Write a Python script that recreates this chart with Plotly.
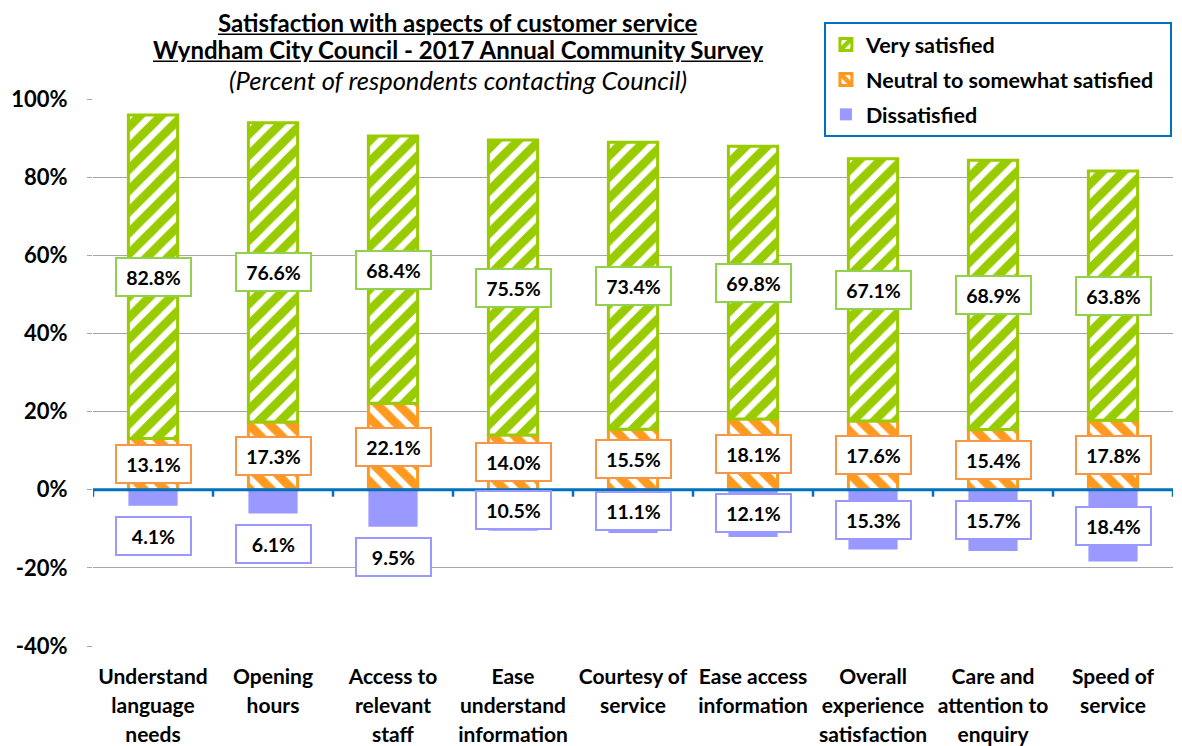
import plotly.graph_objects as go

categories = ["Understand<br>language<br>needs", "Opening<br>hours", "Access to<br>relevant<br>staff",
              "Ease<br>understand<br>information", "Courtesy of<br>service", "Ease access<br>information",
              "Overall<br>experience<br>satisfaction", "Care and<br>attention to<br>enquiry", "Speed of<br>service"]
very_satisfied = [82.8, 76.6, 68.4, 75.5, 73.4, 69.8, 67.1, 68.9, 63.8]
neutral = [13.1, 17.3, 22.1, 14.0, 15.5, 18.1, 17.6, 15.4, 17.8]
dissatisfied = [4.1, 6.1, 9.5, 10.5, 11.1, 12.1, 15.3, 15.7, 18.4]
y_ticks = [-40, -20, 0, 20, 40, 60, 80, 100]

FONT = "Lato"
GREEN = "#99CC00"
GREEN_BOX = "#92D050"
ORANGE = "#FF9A1F"
ORANGE_BOX = "#F79646"
PURPLE = "#9999FF"
BLUE = "#0070C0"

x = list(range(len(categories)))
fig = go.Figure()
fig.add_trace(go.Bar(
    x=x, y=neutral, name="<b>Neutral to somewhat satisfied</b>\u00a0\u00a0", width=0.41,
    marker=dict(color="white", line=dict(color=ORANGE, width=3),
                pattern=dict(shape="\\", fgcolor=ORANGE, bgcolor="white", fgopacity=1,
                             size=15, solidity=0.58)),
    legendrank=2, legendgroup="b"))
fig.add_trace(go.Bar(
    x=x, y=very_satisfied, name="<b>Very satisfied</b>", width=0.41,
    marker=dict(color="white", line=dict(color=GREEN, width=3),
                pattern=dict(shape="/", fgcolor=GREEN, bgcolor="white", fgopacity=1,
                             size=15, solidity=0.58)),
    legendrank=1, legendgroup="a"))
fig.add_trace(go.Bar(
    x=x, y=[-d for d in dissatisfied], name="<b>Dissatisfied</b>", width=0.41,
    marker=dict(color=PURPLE, line=dict(color=PURPLE, width=0)),
    legendrank=3, legendgroup="c"))

lab_font = dict(family=FONT, size=19.5, color="black")
box = dict(showarrow=False, font=lab_font, bgcolor="white", borderwidth=2, borderpad=6, width=61, height=24)
for i in x:
    n, v, d = neutral[i], very_satisfied[i], dissatisfied[i]
    fig.add_annotation(x=i, y=n + v / 2, text="<b>%.1f%%</b>" % v, bordercolor=GREEN_BOX, **box)
    fig.add_annotation(x=i, y=n / 2, text="<b>%.1f%%</b>" % n, bordercolor=ORANGE_BOX, **box)
    if d < 10:
        fig.add_annotation(x=i, y=-d, yanchor="top", yshift=-10, text="<b>%.1f%%</b>" % d,
                           bordercolor=PURPLE, **box)
    else:
        fig.add_annotation(x=i, y=-d / 2, text="<b>%.1f%%</b>" % d, bordercolor=PURPLE, **box)

# zero line on top with small tick marks
fig.add_shape(type="line", xref="paper", x0=0, x1=1, yref="y", y0=0, y1=0,
              line=dict(color=BLUE, width=3), layer="above")
for i in range(len(categories) + 1):
    fig.add_shape(type="line", xref="x", x0=i - 0.5, x1=i - 0.5, yref="y", ysizemode="pixel",
                  yanchor=0, y0=0, y1=-7, line=dict(color=BLUE, width=2.5), layer="above")

title_x = 0.338
tfont = dict(family=FONT, size=24, color="black")
tkw = dict(xref="paper", yref="paper", x=title_x, xanchor="center", yanchor="middle", showarrow=False)
fig.add_annotation(y=1.1408, height=26, text="<b><u>Satisfaction with aspects of customer service</u></b>",
                   font=tfont, **tkw)
fig.add_annotation(y=1.0914, height=26, text="<b><u>Wyndham City Council - 2017 Annual Community Survey</u></b>",
                   font=tfont, **tkw)
fig.add_annotation(y=1.0347, text="<i>(Percent of respondents contacting Council)</i>",
                   font=dict(family=FONT, size=25.5, color="black"), **tkw)

fig.update_layout(
    width=1174, height=738,
    margin=dict(l=85, r=9, t=91, b=100, autoexpand=False),
    barmode="relative",
    plot_bgcolor="white", paper_bgcolor="white",
    font=dict(family=FONT, color="black"),
    legend=dict(x=0.999, y=1.1408, xanchor="right", yanchor="top", bgcolor="white",
                bordercolor=BLUE, borderwidth=2, traceorder="grouped", tracegroupgap=4,
                font=dict(family=FONT, size=21.5, color="black")),
    showlegend=True,
)
fig.update_xaxes(tickmode="array", tickvals=x,
                 ticktext=['<span style="font-size:21px"><b>%s</b></span>' % c for c in categories],
                 tickfont=dict(family=FONT, size=22.5, color="black"), range=[-0.5, len(categories) - 0.5],
                 showgrid=False, zeroline=False, showline=False, ticks="", ticklabelstandoff=14)
fig.update_yaxes(range=[-40, 100], tickmode="array", tickvals=y_ticks,
                 ticktext=["<b>%d%%</b>" % t for t in y_ticks],
                 tickfont=dict(family=FONT, size=22, color="black"),
                 showgrid=True, gridcolor="#A6A6A6", gridwidth=1, zeroline=False,
                 ticks="outside", ticklen=5, tickcolor="#A6A6A6", ticklabelstandoff=15)

fig.write_html("out.html")
